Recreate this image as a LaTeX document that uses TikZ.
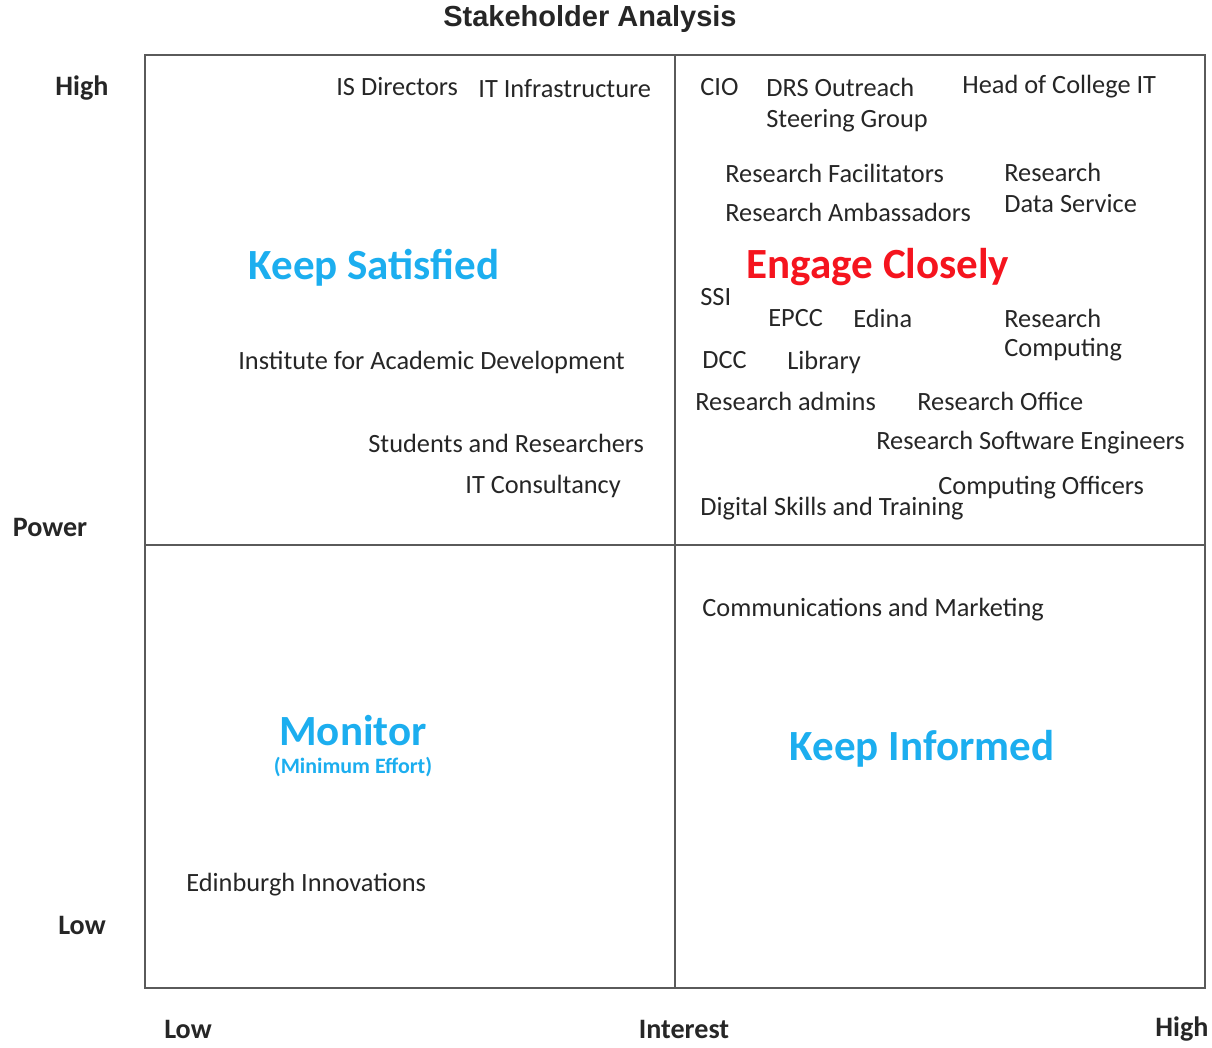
\documentclass[tikz,border=0pt]{standalone}
\usepackage{fontspec}
\setmainfont{Carlito}
\newfontfamily\titlefont{Liberation Sans}
\usepackage{xcolor}
\usetikzlibrary{calc}
\definecolor{keepblue}{HTML}{1CAEEF}
\definecolor{engred}{HTML}{F5141E}
\definecolor{gridgray}{HTML}{5A5A5A}

\begin{document}
\begin{tikzpicture}[x=0.02cm,y=-0.02cm]
        \tikzstyle{every node}=[inner sep=0pt]
        \tikzstyle{lbl}=[anchor=west,text=black!85,font=\fontsize{15}{18}\selectfont]
        \tikzstyle{axis}=[font=\fontsize{16}{19}\selectfont\bfseries,text=black!85]
        \tikzstyle{zone}=[font=\fontsize{24.5}{29}\selectfont\bfseries,text=keepblue]
        \useasboundingbox (0,0) rectangle (1212,1047);
        % Grid
        \coordinate (tl) at (145,55);
        \coordinate (br) at (1205,988);
        \coordinate (mid) at (675,545);
        \draw[gridgray,line width=1.2pt] (tl) rectangle (br);
        \draw[gridgray,line width=1pt] (tl -| mid)--(br -| mid);
        \draw[gridgray,line width=1pt] (tl |- mid)--(br |- mid);
        % Title and axes
        \node[font=\titlefont\fontsize{16.5}{19}\selectfont\bfseries,text=black!85] (title) at (590,19) {Stakeholder Analysis};
        \node[axis] (phigh) at (82,88) {High};
        \node[axis] (power) at (50,527) {Power};
        \node[axis] (plow) at (82,925) {Low};
        \node[axis] (ilow) at (188,1029) {Low};
        \node[axis] (interest) at (684,1029) {Interest};
        \node[axis] (ihigh) at (1182,1029) {High};
        % Keep Satisfied
        \node[zone] (ks) at (374,268) {Keep Satisfied};
        \node[lbl] (isd) at (336,87) {IS Directors};
        \node[lbl] (iti) at (478,89) {IT Infrastructure};
        \node[lbl] (iad) at (238,362) {Institute for Academic Development};
        \node[lbl] (sr) at (368,443) {Students and Researchers};
        \node[lbl] (itc) at (465,486) {IT Consultancy};
        % Engage Closely
        \node[zone,text=engred] (ec) at (878,267) {Engage Closely};
        \node[lbl] (cio) at (700,87) {CIO};
        \node[lbl] (drs) at (766,87) {DRS Outreach};
        \node[lbl] (drs2) at ($(drs.west)+(0,34)$) {Steering Group};
        \node[lbl] (hoc) at (962,87) {Head of College IT};
        \node[lbl] (rf) at (725,173) {Research Facilitators};
        \node[lbl] (ra) at (725,212) {Research Ambassadors};
        \node[lbl] (rds) at (1004,172) {Research};
        \node[lbl] (rds2) at ($(rds.west)+(0,32)$) {Data Service};
        \node[lbl] (ssi) at (700,297) {SSI};
        \node[lbl] (epcc) at (768,318) {EPCC};
        \node[lbl] (edina) at (853,318) {Edina};
        \node[lbl] (rc) at (1004,318) {Research};
        \node[lbl] (rc2) at ($(rc.west)+(0,32)$) {Computing};
        \node[lbl] (dcc) at (702,360) {DCC};
        \node[lbl] (lib) at (787,362) {Library};
        \node[lbl] (radm) at (695,401) {Research admins};
        \node[lbl] (ro) at (917,401) {Research Office};
        \node[lbl] (rse) at (876,443) {Research Software Engineers};
        \node[lbl] (co) at (938,488) {Computing Officers};
        \node[lbl] (dst) at (700,509) {Digital Skills and Training};
        % Keep Informed
        \node[zone] (ki) at (922,749) {Keep Informed};
        \node[lbl] (cm) at (702,610) {Communications and Marketing};
        % Monitor
        \node[zone] (mon) at (353,731) {Monitor};
        \node[font=\fontsize{12.5}{15}\selectfont\bfseries,text=keepblue] (mon2) at (353,767) {(Minimum Effort)};
        \node[lbl] (ei) at (186,885) {Edinburgh Innovations};
\end{tikzpicture}
\end{document}
